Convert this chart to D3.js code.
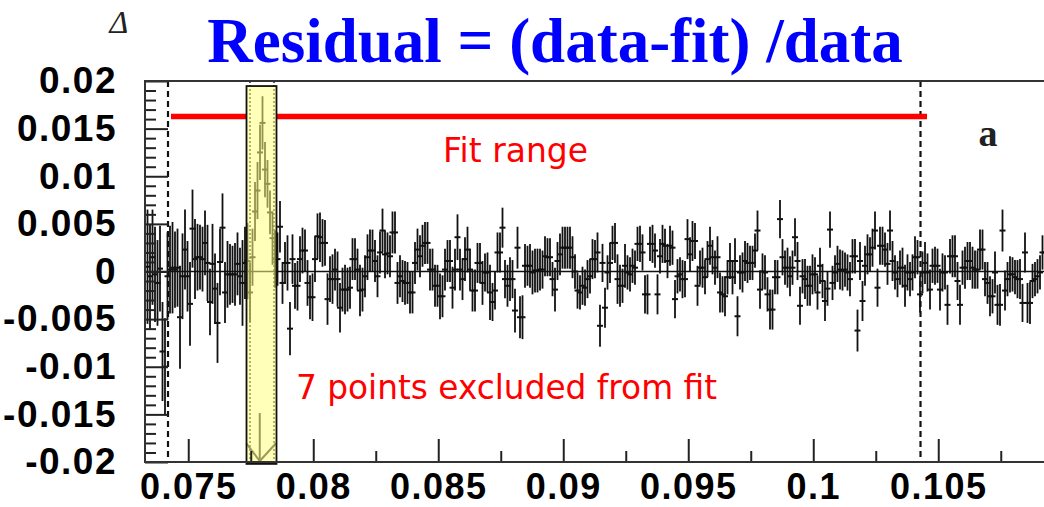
<!DOCTYPE html>
<html><head><meta charset="utf-8">
<script src="https://cdn.jsdelivr.net/npm/d3@7"></script>
<style>body{margin:0;background:#fff;overflow:hidden}</style>
</head><body><svg id="c" width="1044" height="507"></svg>
<script>
// ---- data ----
const xStart = 0.07337, xStep = 0.0001;          // bin centres
// residual values x 1e-3
const residualE3 = [
 0.5,-0.5,1.5,-0.3,-1.2,0.3,-8.4,-10.0,-0.5,
 0.2,0.4,0.2,0.4,-4.8,-0.5,2.3,-0.5,-3.4,4.5,1.3,1.5,1.5,1.3,3.0,0.9,-3.2,0.8,-1.8,-5.4,1.0,4.6,-2.2,-0.3,-0.3,-0.3,-0.3,0.8,-0.5,-1.2,0.9,1.1,-2.2,
 1.5,6.3,8.5,12.5,15.6,10.7,9.2,6.2,3.5,1.3,
 1.3,4.7,-1.2,0.9,0.9,-6.0,1.3,-1.5,-1.5,1.3,
 2.2,2.2,-1.2,-2.7,-2.7,1.3,3.7,3.6,3.0,3.0,
 -2.9,-0.8,-0.8,0.2,-0.8,-3.8,-1.9,-1.9,-1.9,-1.7,
 1.3,1.3,0.2,-2.0,-1.9,-0.5,1.5,2.2,2.2,1.1,
 -0.5,2.0,4.3,1.8,1.9,1.6,4.1,4.1,-1.2,-0.5,
 -1.0,-1.2,-1.2,-2.2,-2.2,0.9,2.3,1.6,2.7,3.0,
 3.0,0.2,0.2,-1.5,-1.5,-2.6,-2.6,0.2,1.1,1.1,
 -1.7,0.2,3.6,0.2,-0.8,
 1.3,2.3,0.2,-2.0,-2.0,0.9,0.9,-1.2,-0.1,-0.1,
 -2.2,-3.2,-2.0,2.0,2.0,4.6,-0.8,-1.5,-0.8,-0.8,
 -4.1,2.5,-4.8,-4.8,0.6,0.6,0.6,-0.1,0.1,0.1,
 0.2,0.2,1.6,1.5,1.5,-0.8,-1.9,1.1,1.8,2.5,
 2.5,2.5,2.5,1.5,0.0,-2.0,-2.2,-1.5,-1.7,-0.8,
 -0.5,1.3,1.3,2.0,-5.7,0.9,-3.8,-0.1,0.9,3.0,
 3.0,-0.8,-1.5,-1.5,0.6,-0.1,-0.3,0.6,0.4,2.9,
 2.9,2.0,-2.4,-2.4,2.9,2.9,2.2,-2.4,1.6,2.9,
 2.7,
 1.1,2.7,2.5,-2.9,-0.5,-0.3,-0.8,-0.8,3.4,1.8,
 3.2,3.2,-1.5,0.4,0.4,-0.6,1.3,2.7,1.5,0.4,
 1.5,-2.2,-2.4,-2.6,-0.6,1.1,-0.6,1.1,-4.7,-0.1,
 -0.1,1.1,0.9,0.9,0.9,2.2,4.3,-1.9,0.0,-0.1,
 -2.4,-4.0,-4.0,-0.6,-0.6,5.5,1.5,0.4,0.4,-0.5,
 0.4,3.6,1.1,-3.6,-0.5,-0.8,-1.5,-1.5,-0.3,-0.3,
 -2.2,0.6,-1.0,-3.1,-1.8,4.4,-1.2,-0.1,0.8,0.2,
 0.1,0.2,-0.1,-0.8,1.6,1.6,
 -6.2,1.1,-3.1,0.6,1.8,1.8,2.5,4.3,-1.7,2.7,
 2.7,2.3,0.8,4.3,1.1,-0.1,-0.8,0.4,0.4,-1.5,
 -0.1,-0.8,-0.1,1.5,1.5,-2.4,-0.1,0.9,-0.1,-1.9,
 0.6,0.6,0.6,-1.9,-0.1,-0.1,-3.5,1.6,1.6,1.6,
 -1.0,-3.5,0.4,0.4,1.1,1.1,0.4,0.2,0.2,2.3,
 2.3,-0.8,-1.2,-2.6,-2.6,-0.1,-3.5,-3.5,4.3,-2.0,
 -0.8,-0.3,-0.3,-0.6,-0.8,-0.8,-3.3,2.0,-3.3,-3.3,
 -1.0,-0.8,-0.5,-0.1,2.0,2.0,1.1,0.4
];
// error bar half-lengths x 1e-3
const errorE3 = [
 6.0,5.5,5.0,5.0,4.5,4.5,5.2,5.1,4.6,
 4.6,4.8,4.0,4.1,5.4,4.5,4.2,3.7,4.4,4.1,4.2,3.5,3.4,3.4,3.4,4.0,3.5,4.2,3.7,4.2,3.5,3.6,3.2,3.5,3.2,3.0,3.3,3.3,3.0,4.5,3.8,4.0,3.1,
 3.0,3.1,3.0,2.9,2.8,2.9,2.5,2.3,2.8,3.0,
 2.8,2.7,2.2,2.2,2.9,2.8,2.6,2.4,2.6,2.4,
 2.4,2.2,2.4,2.3,2.5,2.4,2.4,2.6,2.5,2.4,
 2.7,2.4,2.6,2.2,2.9,2.6,2.3,2.6,2.3,2.2,
 2.2,2.2,2.2,2.7,2.3,2.2,2.4,2.2,2.2,2.2,
 2.2,2.2,2.3,2.5,2.2,2.2,2.2,2.2,2.2,2.2,
 2.2,2.3,2.2,2.2,2.2,2.2,2.2,2.2,2.2,2.2,
 2.2,2.2,2.2,2.2,2.2,2.4,2.2,2.2,2.2,2.2,
 2.2,2.2,2.4,2.2,2.2,
 2.3,2.4,2.2,2.2,2.2,2.1,2.1,2.3,2.0,2.1,
 2.9,2.0,2.0,2.1,2.1,2.1,2.0,2.2,2.3,2.0,
 2.3,2.2,2.2,2.3,2.3,2.1,2.3,2.3,2.3,2.3,
 2.2,2.0,2.1,2.0,2.0,1.8,2.3,2.0,2.2,2.2,
 2.2,2.2,2.2,2.2,1.8,1.9,1.8,2.0,1.9,2.0,
 1.8,2.1,2.0,2.1,2.2,2.0,2.1,1.8,2.1,1.8,
 2.1,2.6,2.2,1.8,2.3,1.8,1.8,1.8,1.8,1.8,
 1.9,1.9,2.0,2.1,1.8,2.0,1.8,2.1,1.8,2.0,
 1.8,
 1.8,2.1,1.8,2.0,1.8,1.8,2.0,1.9,2.1,1.8,
 2.1,1.9,2.1,1.8,2.1,1.8,1.9,2.0,1.8,1.8,
 2.2,2.1,1.9,2.1,1.8,1.9,1.8,2.4,2.1,1.8,
 2.1,2.1,2.1,1.8,1.8,1.8,2.1,2.0,1.9,1.8,
 1.8,2.1,2.1,1.8,1.8,2.0,1.9,1.8,2.1,2.1,
 1.8,2.0,2.0,2.0,1.8,2.1,2.1,2.1,2.1,1.8,
 1.8,1.9,1.8,2.1,1.8,1.9,1.8,1.8,1.9,2.1,
 2.1,1.8,1.9,1.8,1.8,1.8,
 2.2,2.0,2.1,2.1,2.1,1.8,2.0,2.0,2.0,2.0,
 2.0,1.8,2.2,2.1,2.1,1.8,1.9,1.8,2.1,2.2,
 1.9,1.8,1.9,2.2,1.8,1.9,2.2,2.2,2.0,2.1,
 1.8,2.0,1.8,2.2,2.0,1.8,2.1,1.8,2.2,2.2,
 2.0,2.1,1.8,2.2,2.0,2.0,2.2,2.0,2.0,2.1,
 2.1,1.8,2.2,2.1,1.8,2.2,2.1,2.2,2.2,2.1,
 1.8,1.9,1.8,1.8,2.0,2.1,2.0,2.1,2.1,2.2,
 1.8,1.8,1.8,1.8,1.8,2.4,2.1,1.8
];
const yTickValues = [0.02,0.015,0.01,0.005,0,-0.005,-0.01,-0.015,-0.02];
const yTickLabels = ["0.02","0.015","0.01","0.005","0","-0.005","-0.01","-0.015","-0.02"];
const xTickValues = [0.075,0.08,0.085,0.09,0.095,0.1,0.105];
const xTickLabels = ["0.075","0.08","0.085","0.09","0.095","0.1","0.105"];
const xMinorTicks = [0.0775,0.0825,0.0875,0.0925,0.0975,0.1025,0.1075];
const xDomain = [0.07327, 0.1100];
const yDomain = [-0.02, 0.02];
const fitRangeLines = [0.07419, 0.10429];
const fitBarRange = [0.07431, 0.10455];
const fitBarLevel = 0.01627;
const excludedBox = {x0: 0.07733, x1: 0.07853, y0: -0.0202, y1: 0.01947};
const excludedLines = [0.07747, 0.07843];
const excludedArrow = {x: 0.07786, from: -0.01486, to: -0.0199, wingX: [0.07733, 0.07850], wingY: -0.01806};
const titleText = "Residual = (data-fit) /data";

// ---- drawing ----
const svg = d3.select("#c");
const frame = {l:145, r:1044, t:81, b:462};
const x = d3.scaleLinear().domain(xDomain).range([145, 145 + (xDomain[1]-xDomain[0])*25000]);
const y = d3.scaleLinear().domain(yDomain).range([frame.b, frame.t]);

svg.append("defs").append("clipPath").attr("id","clip")
  .append("rect").attr("x",frame.l).attr("y",frame.t).attr("width",frame.r-frame.l).attr("height",frame.b-frame.t);

// zero line
svg.append("line").attr("x1",frame.l).attr("x2",frame.r).attr("y1",y(0)).attr("y2",y(0))
  .attr("stroke","#111").attr("stroke-width",1.6);

// dashed fit range lines
svg.selectAll(".fitline").data(fitRangeLines).join("line")
  .attr("x1",d=>x(d)).attr("x2",d=>x(d)).attr("y1",frame.t).attr("y2",frame.b)
  .attr("stroke","#111").attr("stroke-width",2.2).attr("stroke-dasharray","6 4");

// dotted excluded lines
svg.selectAll(".exline").data(excludedLines).join("line")
  .attr("x1",d=>x(d)).attr("x2",d=>x(d)).attr("y1",frame.t).attr("y2",frame.b)
  .attr("stroke","#222").attr("stroke-width",1.5).attr("stroke-dasharray","2 2");

// data
const data = residualE3.map((v,i)=>({x: xStart + i*xStep, v: v/1000, e: errorE3[i]/1000}));
const g = svg.append("g").attr("clip-path","url(#clip)");
g.selectAll(".eb").data(data).join("line")
  .attr("x1",d=>x(d.x)).attr("x2",d=>x(d.x))
  .attr("y1",d=>y(d.v+d.e)).attr("y2",d=>y(d.v-d.e))
  .attr("stroke","#111").attr("stroke-width",1.8);
g.selectAll(".mk").data(data).join("line")
  .attr("x1",d=>x(d.x)-3).attr("x2",d=>x(d.x)+3)
  .attr("y1",d=>y(d.v)).attr("y2",d=>y(d.v))
  .attr("stroke","#111").attr("stroke-width",2);

// arrow in excluded box
const ag = svg.append("g").attr("stroke","#222").attr("stroke-width",2).attr("fill","none");
ag.append("line").attr("x1",x(excludedArrow.x)).attr("x2",x(excludedArrow.x)).attr("y1",y(excludedArrow.from)).attr("y2",y(excludedArrow.to));
excludedArrow.wingX.forEach(wx=>{
  ag.append("line").attr("x1",x(wx)).attr("y1",y(excludedArrow.wingY)).attr("x2",x(excludedArrow.x)).attr("y2",y(excludedArrow.to));
});

// red fit bar (two segments around the box)
const segs = [[fitBarRange[0], excludedBox.x0],[excludedBox.x1, fitBarRange[1]]];
svg.selectAll(".fb").data(segs).join("line")
  .attr("x1",d=>x(d[0])).attr("x2",d=>x(d[1])).attr("y1",y(fitBarLevel)).attr("y2",y(fitBarLevel))
  .attr("stroke","#ff0000").attr("stroke-width",5.5);

// excluded box overlay
svg.append("rect")
  .attr("x",x(excludedBox.x0)).attr("y",y(excludedBox.y1))
  .attr("width",x(excludedBox.x1)-x(excludedBox.x0)).attr("height",y(excludedBox.y0)-y(excludedBox.y1))
  .attr("fill","#ffff80").attr("fill-opacity",0.55).attr("stroke","#111").attr("stroke-width",1.8);

// axes
const yAxis = d3.axisLeft(y).tickValues(yTickValues).tickSize(-23).tickPadding(28)
  .tickFormat((d,i)=>yTickLabels[i]);
const yMinor = d3.axisLeft(y).tickValues(d3.range(-20,21).filter(k=>k%5!==0).map(k=>k/1000))
  .tickSize(-11).tickFormat("");
const xAxis = d3.axisBottom(x).tickValues(xTickValues).tickSize(-23).tickPadding(11)
  .tickFormat((d,i)=>xTickLabels[i]);
const xMinor = d3.axisBottom(x).tickValues(xMinorTicks).tickSize(-11).tickFormat("");

function styleAxis(sel, fs){
  sel.select(".domain").remove();
  sel.selectAll(".tick line").attr("stroke","#222").attr("stroke-width",2);
  sel.selectAll("text").attr("fill","#000")
    .style("font-family","'Liberation Sans', Arial, sans-serif")
    .style("font-weight","bold").style("font-size",fs+"px").style("letter-spacing","1.5px");
}
svg.append("g").attr("transform",`translate(${frame.l},0)`).call(yAxis).call(styleAxis,37);
svg.append("g").attr("transform",`translate(${frame.l},0)`).call(yMinor).call(styleAxis,37);
svg.append("g").attr("transform",`translate(0,${frame.b})`).call(xAxis).call(styleAxis,36);
svg.append("g").attr("transform",`translate(0,${frame.b})`).call(xMinor).call(styleAxis,36);
svg.selectAll("g.tick").filter(function(){ return +this.getAttribute("transform").match(/translate\(([-\d.]+)/)[1] > 1040; }).remove();

// frame
svg.append("path")
  .attr("d",`M${frame.r+5},${frame.t}H${frame.l}V${frame.b}H${frame.r+5}`)
  .attr("fill","none").attr("stroke","#333").attr("stroke-width",2);

// texts
svg.append("text").attr("x",555).attr("y",62).attr("text-anchor","middle")
  .attr("fill","#0000ff").style("font-family","'Liberation Serif','Times New Roman',serif")
  .style("font-weight","bold").style("font-size","63px").text(titleText);
svg.append("text").attr("x",119).attr("y",33).attr("text-anchor","middle")
  .attr("fill","#222").style("font-family","'Liberation Serif',serif").style("font-style","italic")
  .style("font-size","32px").text("Δ");
svg.append("text").attr("x",443).attr("y",162).attr("textLength",145).attr("lengthAdjust","spacingAndGlyphs")
  .attr("fill","#ff0000").style("font-family","'DejaVu Sans',sans-serif").style("font-size","34px").text("Fit range");
svg.append("text").attr("x",296).attr("y",399).attr("textLength",421).attr("lengthAdjust","spacingAndGlyphs")
  .attr("fill","#ff0000").style("font-family","'DejaVu Sans',sans-serif").style("font-size","34px").text("7 points excluded from fit");
svg.append("text").attr("x",988).attr("y",146).attr("text-anchor","middle")
  .attr("fill","#222").style("font-family","'Liberation Serif',serif").style("font-weight","bold")
  .style("font-size","38px").text("a");
</script></body></html>
